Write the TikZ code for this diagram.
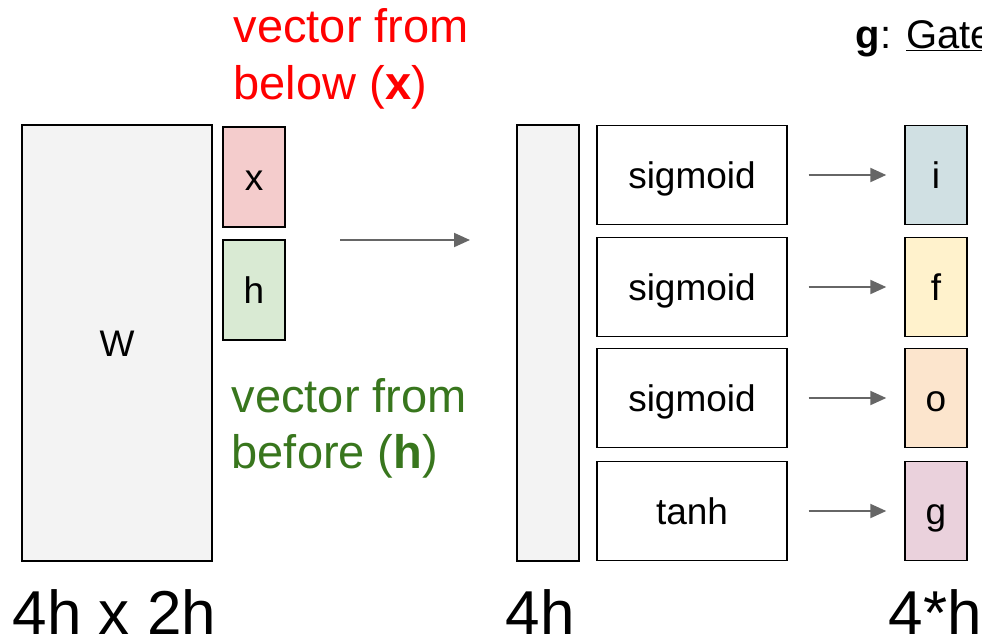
\documentclass[tikz,border=0pt]{standalone}
\usepackage{fontspec}
\setmainfont{Liberation Sans}
\usetikzlibrary{arrows.meta}
\definecolor{wgray}{HTML}{F3F3F3}
\definecolor{xred}{HTML}{F4CCCC}
\definecolor{hgreen}{HTML}{D9EAD3}
\definecolor{iblue}{HTML}{D0E0E3}
\definecolor{fyellow}{HTML}{FFF2CC}
\definecolor{oorange}{HTML}{FCE5CD}
\definecolor{gpink}{HTML}{EAD1DC}
\definecolor{txtgreen}{HTML}{38761D}
\definecolor{arrgray}{HTML}{666666}
\newcommand{\fsz}[1]{\fontsize{#1}{1.22\dimexpr#1pt\relax}\selectfont}

\begin{document}
\begin{tikzpicture}[x=1pt, y=-1pt, line width=1.4pt]

  \tikzset{blk/.style={draw, inner sep=0pt, font=\fsz{37},
                       text height=26pt, text depth=0pt},
           vec/.style={blk, minimum width=62pt, minimum height=100pt},
           nl/.style={blk, fill=white, minimum width=190pt, minimum height=99pt},
           note/.style={anchor=base west, inner sep=0pt, font=\fsz{47}},
           dimlab/.style={anchor=base west, inner sep=0pt, font=\fsz{62}},
           flow/.style={draw=arrgray, line width=2pt,
                        -{Triangle[length=16pt,width=14pt]}}}

  \useasboundingbox (0,0) rectangle (982,640);

  % weights and inputs
  \node[blk, fill=wgray, minimum width=190pt, minimum height=436pt] (W) at (117,343) {W};
  \node[vec, fill=xred] (x) at (254,177) {x};
  \node[vec, fill=hgreen] (h) at (254,290) {h};
  \node[note, text=red] (xlab) at (233,42) {vector from};
  \node[note, text=red] (xlab2) at (233,99) {below (\textbf{x})};
  \node[note, text=txtgreen] (hlab) at (231,412) {vector from};
  \node[note, text=txtgreen] (hlab2) at (231,468) {before (\textbf{h})};

  \coordinate (mulL) at (340,240);
  \coordinate (mulR) at (470,240);
  \draw[flow] (mulL) -- (mulR);

  % product and nonlinearities
  \node[blk, fill=wgray, minimum width=62pt, minimum height=436pt] (bar) at (548,343) {};
  \foreach \f/\g/\c/\yy [count=\i] in {sigmoid/i/iblue/175, sigmoid/f/fyellow/287,
      sigmoid/o/oorange/398, tanh/g/gpink/511} {
    \node[nl] (s\i) at (692,\yy) {\f};
    \node[vec, fill=\c, minimum height=99pt] (q\i) at (936,\yy) {\g};
    \draw[flow, shorten <=21pt, shorten >=18pt] (s\i.east) -- (q\i.west);
  }

  \node[anchor=base west, inner sep=0pt, font=\fsz{40}] (glab) at (855,48)
    {\textbf{g}: \underline{Gate}};

  % sizes
  \node[dimlab] (d1) at (12,634) {4h x 2h};
  \node[dimlab] (d2) at (505,634) {4h};
  \node[dimlab] (d3) at (888,634) {4*h};

\end{tikzpicture}
\end{document}
